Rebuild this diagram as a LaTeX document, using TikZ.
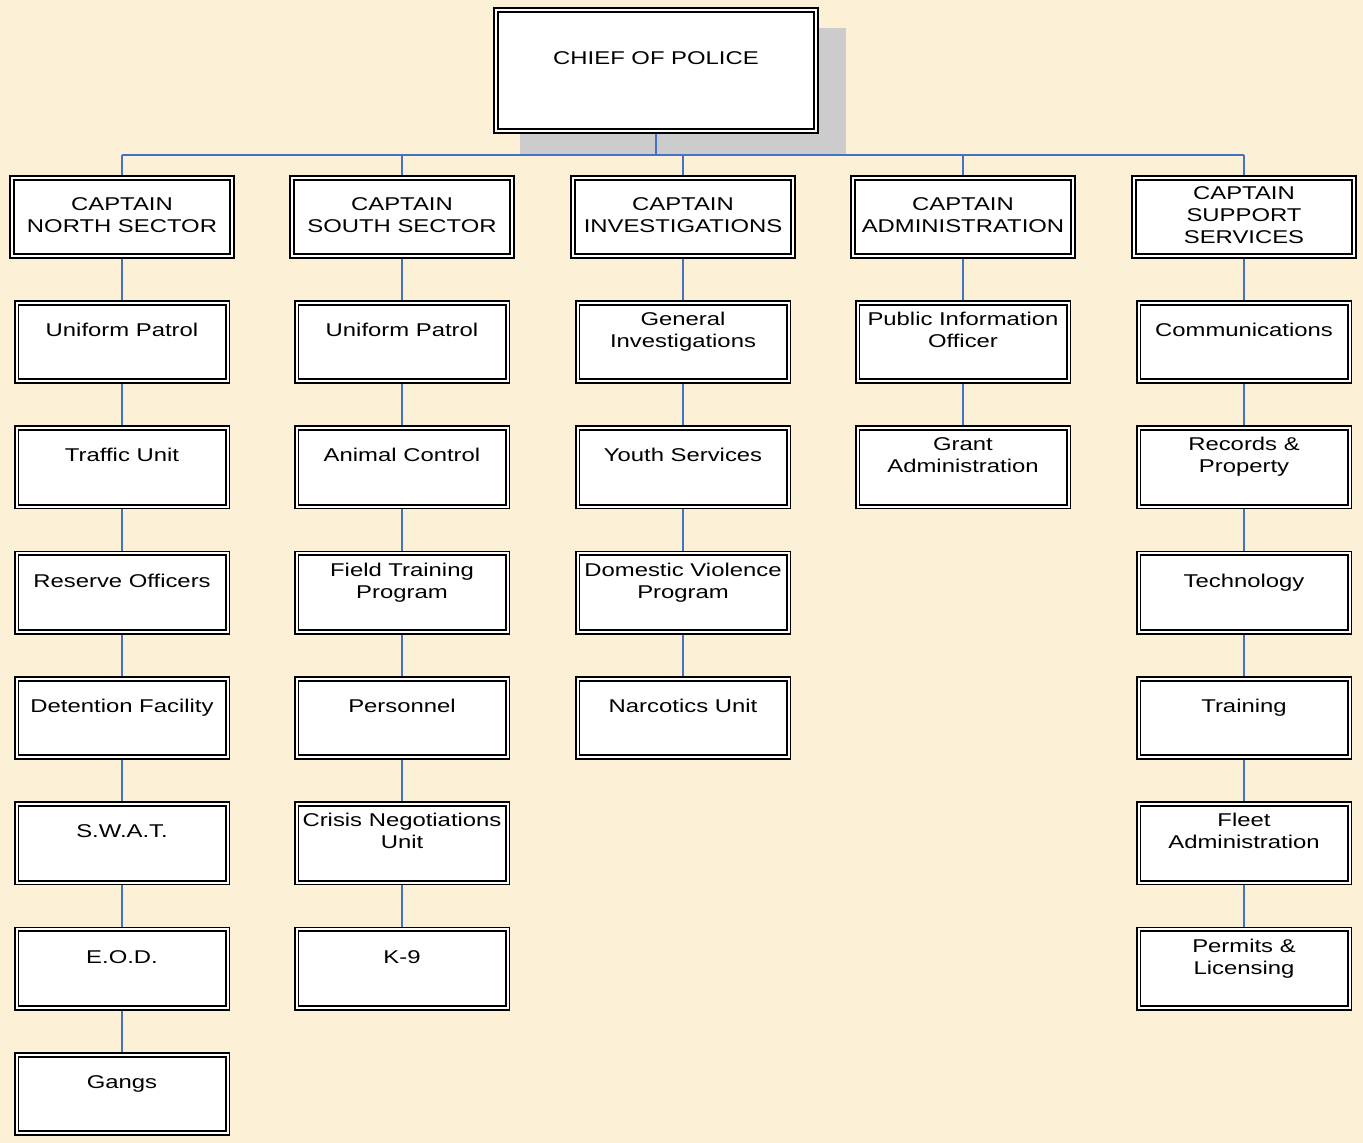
\documentclass[tikz,border=0pt]{standalone}
\usepackage{fontspec}
\setmainfont[FakeStretch=1.29]{Liberation Sans}
\pgfdeclarelayer{back}
\pgfdeclarelayer{mid}
\pgfsetlayers{back,mid,main}
\definecolor{parch}{RGB}{252,241,214}
\definecolor{shadowgray}{RGB}{204,204,204}
\definecolor{connblue}{RGB}{68,114,196}
\newcommand\subunit[4]{%
  \node[subbox] (#1) at (#2,{342+125.33*#3}) {};
  \node[lbl,yshift=10pt] (#1t) at (#1.center) {\strut #4\strut};}
\newcommand\captbox[3]{%
  \node[capbox] (#1) at (#2,217) {};
  \node[lbl] (#1t) at (#1.center) {\strut #3\strut};}
\begin{document}
\begin{tikzpicture}[x=1pt,y=-1pt,
  box/.style={draw=black, double=white, double distance=2pt, line width=1.9pt, fill=white, inner sep=0pt},
  subbox/.style={box, minimum width=211pt, minimum height=78.5pt},
  capbox/.style={box, minimum width=219.5pt, minimum height=78.5pt},
  chiefbox/.style={box, minimum width=319.5pt, minimum height=121.5pt},
  lbl/.style={align=center, font=\fontsize{18.5}{22}\selectfont, inner sep=0pt},
  conn/.style={draw=connblue, line width=1.6pt}]
\useasboundingbox (0,0) rectangle (1363,1143);
\begin{pgfonlayer}{back}
  \fill[parch] (0,0) rectangle (1363,1143);
  \fill[shadowgray] (520,28) rectangle (846,155);
\end{pgfonlayer}
% chief
\node[chiefbox] (chief) at (656,70.5) {};
\node[lbl,yshift=10pt] (chieft) at (chief.center) {\strut CHIEF OF POLICE\strut};
% captains
\captbox{cn}{122}{CAPTAIN\\NORTH SECTOR}
\captbox{cs}{402}{CAPTAIN\\SOUTH SECTOR}
\captbox{ci}{683}{CAPTAIN\\INVESTIGATIONS}
\captbox{ca}{963}{CAPTAIN\\ADMINISTRATION}
\captbox{cp}{1244}{CAPTAIN\\SUPPORT\\SERVICES}
% north
\subunit{n0}{122}{0}{Uniform Patrol}
\subunit{n1}{122}{1}{Traffic Unit}
\subunit{n2}{122}{2}{Reserve Officers}
\subunit{n3}{122}{3}{Detention Facility}
\subunit{n4}{122}{4}{S.W.A.T.}
\subunit{n5}{122}{5}{E.O.D.}
\subunit{n6}{122}{6}{Gangs}
% south
\subunit{s0}{402}{0}{Uniform Patrol}
\subunit{s1}{402}{1}{Animal Control}
\subunit{s2}{402}{2}{Field Training\\Program}
\subunit{s3}{402}{3}{Personnel}
\subunit{s4}{402}{4}{Crisis Negotiations\\Unit}
\subunit{s5}{402}{5}{K-9}
% investigations
\subunit{i0}{683}{0}{General\\Investigations}
\subunit{i1}{683}{1}{Youth Services}
\subunit{i2}{683}{2}{Domestic Violence\\Program}
\subunit{i3}{683}{3}{Narcotics Unit}
% administration
\subunit{a0}{963}{0}{Public Information\\Officer}
\subunit{a1}{963}{1}{Grant\\Administration}
% support
\subunit{p0}{1244}{0}{Communications}
\subunit{p1}{1244}{1}{Records \&\\Property}
\subunit{p2}{1244}{2}{Technology}
\subunit{p3}{1244}{3}{Training}
\subunit{p4}{1244}{4}{Fleet\\Administration}
\subunit{p5}{1244}{5}{Permits \&\\Licensing}
% connectors
\coordinate (busL) at (122,155);
\coordinate (busR) at (1244,155);
\begin{pgfonlayer}{mid}
  \draw[conn] (busL) -- (busR);
  \draw[conn] (chief.center) -- (chief.center |- busL);
  \foreach \c in {cn,cs,ci,ca,cp}
    \draw[conn] (\c.center) -- (\c.center |- busL);
  \draw[conn] (cn.center) -- (n0.center) -- (n1.center) -- (n2.center) -- (n3.center) -- (n4.center) -- (n5.center) -- (n6.center);
  \draw[conn] (cs.center) -- (s0.center) -- (s1.center) -- (s2.center) -- (s3.center) -- (s4.center) -- (s5.center);
  \draw[conn] (ci.center) -- (i0.center) -- (i1.center) -- (i2.center) -- (i3.center);
  \draw[conn] (ca.center) -- (a0.center) -- (a1.center);
  \draw[conn] (cp.center) -- (p0.center) -- (p1.center) -- (p2.center) -- (p3.center) -- (p4.center) -- (p5.center);
\end{pgfonlayer}
\end{tikzpicture}
\end{document}
